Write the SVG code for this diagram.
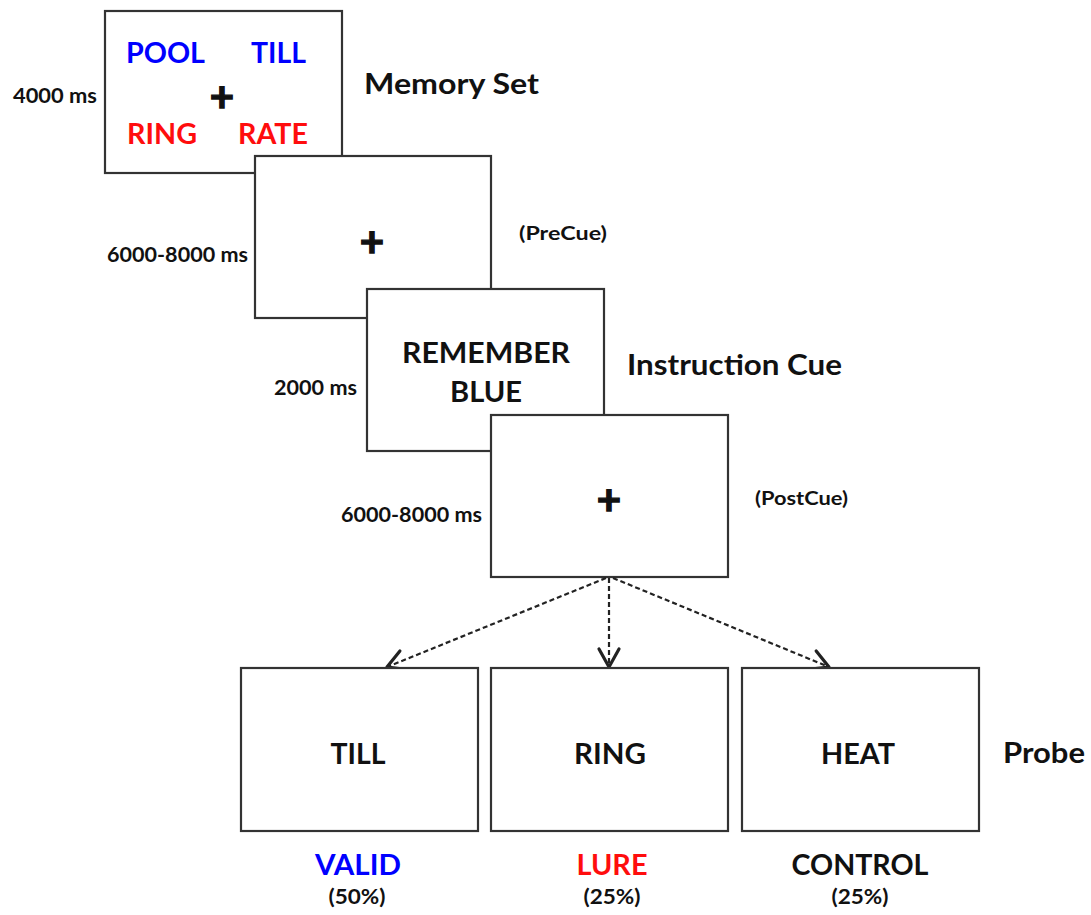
<svg xmlns="http://www.w3.org/2000/svg" width="1091" height="915" viewBox="0 0 1091 915">
  <style>
    .box { fill: #ffffff; stroke: #333333; stroke-width: 2.2; }
    .t { font-family: Lato, "Open Sans", "Liberation Sans", sans-serif; font-weight: 700; fill: #111111; }
    .lbl { font-size: 20px; }
    .par { font-size: 19px; }
    .big { font-size: 29px; }
    .word { font-size: 29px; }
    .blue { fill: #0000ff; }
    .red { fill: #ff0d0d; }
    .mid { text-anchor: middle; }
    .plus { font-size: 42px; stroke: #111111; stroke-width: 1.4; text-anchor: middle; }
    .conn { fill: none; stroke: #222222; stroke-width: 2.2; stroke-dasharray: 5 3; }
  </style>
  <defs>
    <marker id="vhead" markerUnits="userSpaceOnUse" viewBox="-22 -13 25 26" refX="0" refY="0" markerWidth="25" markerHeight="26" orient="auto">
      <path d="M-18,-10 L0,0 L-18,10" fill="none" stroke="#222222" stroke-width="3.2" stroke-linecap="round" stroke-linejoin="round"/>
    </marker>
  </defs>
  <rect width="1091" height="915" fill="#ffffff"/>

  <!-- memory set screen -->
  <g id="memory-set">
    <rect class="box" x="105" y="11" width="237" height="162"/>
    <text class="t word blue" x="126" y="63" textLength="79" lengthAdjust="spacingAndGlyphs">POOL</text>
    <text class="t word blue" x="251" y="63" textLength="55" lengthAdjust="spacingAndGlyphs">TILL</text>
    <text class="t plus" x="222" y="112">+</text>
    <text class="t word red" x="127" y="144" textLength="70" lengthAdjust="spacingAndGlyphs">RING</text>
    <text class="t word red" x="238" y="144" textLength="70" lengthAdjust="spacingAndGlyphs">RATE</text>
    <text class="t lbl" x="13" y="103" textLength="84" lengthAdjust="spacingAndGlyphs">4000 ms</text>
    <text class="t big" x="364" y="94" textLength="175" lengthAdjust="spacingAndGlyphs">Memory Set</text>
  </g>

  <!-- pre-cue fixation -->
  <g id="precue">
    <rect class="box" x="255" y="156" width="236" height="162"/>
    <text class="t plus" x="372" y="257">+</text>
    <text class="t lbl" x="107" y="262" textLength="141" lengthAdjust="spacingAndGlyphs">6000-8000 ms</text>
    <text class="t par" x="519" y="240" textLength="88" lengthAdjust="spacingAndGlyphs">(PreCue)</text>
  </g>

  <!-- instruction cue -->
  <g id="instruction-cue">
    <rect class="box" x="367" y="289" width="237" height="162"/>
    <text class="t word mid" x="486" y="363" textLength="168" lengthAdjust="spacingAndGlyphs">REMEMBER</text>
    <text class="t word mid" x="486" y="402" textLength="72" lengthAdjust="spacingAndGlyphs">BLUE</text>
    <text class="t lbl" x="274" y="395" textLength="83" lengthAdjust="spacingAndGlyphs">2000 ms</text>
    <text class="t big" x="627" y="375" textLength="215" lengthAdjust="spacingAndGlyphs">Instruction Cue</text>
  </g>

  <!-- post-cue fixation -->
  <g id="postcue">
    <rect class="box" x="491" y="415" width="237" height="162"/>
    <text class="t plus" x="609" y="515">+</text>
    <text class="t lbl" x="341" y="522" textLength="141" lengthAdjust="spacingAndGlyphs">6000-8000 ms</text>
    <text class="t par" x="755" y="505" textLength="93" lengthAdjust="spacingAndGlyphs">(PostCue)</text>
  </g>

  <!-- dashed branches to the probe types -->
  <g id="connectors">
    <line class="conn" x1="606" y1="578" x2="387" y2="667" marker-end="url(#vhead)"/>
    <line class="conn" x1="609" y1="578" x2="609" y2="667" marker-end="url(#vhead)"/>
    <line class="conn" x1="613" y1="578" x2="829" y2="667" marker-end="url(#vhead)"/>
  </g>

  <!-- probe: valid -->
  <g id="probe-valid">
    <rect class="box" x="241" y="668" width="237" height="163"/>
    <text class="t word mid" x="358" y="764" textLength="55" lengthAdjust="spacingAndGlyphs">TILL</text>
    <text class="t word mid blue" x="358" y="875" textLength="86" lengthAdjust="spacingAndGlyphs">VALID</text>
    <text class="t lbl mid" x="357" y="904" textLength="57" lengthAdjust="spacingAndGlyphs">(50%)</text>
  </g>

  <!-- probe: lure -->
  <g id="probe-lure">
    <rect class="box" x="491" y="668" width="237" height="163"/>
    <text class="t word mid" x="610" y="764" textLength="72" lengthAdjust="spacingAndGlyphs">RING</text>
    <text class="t word mid red" x="612" y="875" textLength="71" lengthAdjust="spacingAndGlyphs">LURE</text>
    <text class="t lbl mid" x="612" y="904" textLength="57" lengthAdjust="spacingAndGlyphs">(25%)</text>
  </g>

  <!-- probe: control -->
  <g id="probe-control">
    <rect class="box" x="742" y="668" width="237" height="163"/>
    <text class="t word mid" x="858" y="764" textLength="74" lengthAdjust="spacingAndGlyphs">HEAT</text>
    <text class="t word mid" x="860" y="875" textLength="137" lengthAdjust="spacingAndGlyphs">CONTROL</text>
    <text class="t lbl mid" x="860" y="904" textLength="57" lengthAdjust="spacingAndGlyphs">(25%)</text>
  </g>

  <text class="t big" x="1003" y="763" textLength="82" lengthAdjust="spacingAndGlyphs">Probe</text>
</svg>
